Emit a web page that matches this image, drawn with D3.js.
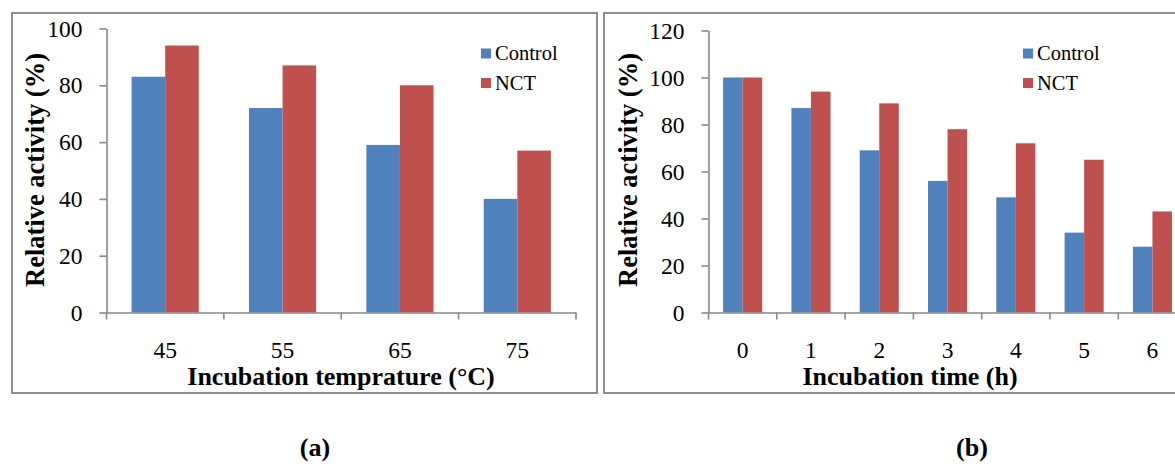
<!DOCTYPE html>
<html>
<head>
<meta charset="utf-8">
<script src="https://cdn.jsdelivr.net/npm/d3@7"></script>
<style>
  html, body { margin: 0; padding: 0; background: #fff; }
  svg { display: block; }
  svg text { font-family: "Times New Roman", "Liberation Serif", Tinos, "DejaVu Serif", serif; fill: #000; }
</style>
</head>
<body>
<svg id="fig" width="1175" height="464"></svg>
<script>
// Thermal stability (a): relative activity vs incubation temperature
const tempCategories = ["45", "55", "65", "75"];
const tempControl = [83, 72, 59, 40];
const tempNCT = [94, 87, 80, 57];
const tempTicks = [0, 20, 40, 60, 80, 100];

// Time course (b): relative activity vs incubation time
const timeCategories = ["0", "1", "2", "3", "4", "5", "6"];
const timeControl = [100, 87, 69, 56, 49, 34, 28];
const timeNCT = [100, 94, 89, 78, 72, 65, 43];
const timeTicks = [0, 20, 40, 60, 80, 100, 120];

const seriesNames = ["Control", "NCT"];
const seriesColors = { Control: "#4F81BD", NCT: "#C0504D" };
const axisColor = "#878787";
const frameColor = "#8e8e8e";
const serif = "'Times New Roman', 'Liberation Serif', Tinos, 'DejaVu Serif', serif";

const svg = d3.select("#fig");

function drawPanel(p) {
  const g = svg.append("g").attr("font-family", serif);

  // panel frame
  g.append("rect")
    .attr("x", p.frame[0]).attr("y", p.frame[1])
    .attr("width", p.frame[2]).attr("height", p.frame[3])
    .attr("fill", "none").attr("stroke", frameColor).attr("stroke-width", 2);

  const x0 = d3.scaleBand().domain(p.categories).range(p.xRange).padding(0);
  const bw = x0.bandwidth();
  const x1 = d3.scaleBand().domain(seriesNames).range([bw * 0.214, bw * 0.786]).padding(0);
  const y = d3.scaleLinear().domain([0, p.yMax]).range(p.yRange);

  const rows = p.categories.map((c, i) => ({ cat: c, Control: p.control[i], NCT: p.nct[i] }));

  // bars
  const groups = g.selectAll("g.cat").data(rows).join("g")
    .attr("class", "cat")
    .attr("transform", d => `translate(${x0(d.cat)},0)`);
  groups.selectAll("rect").data(d => seriesNames.map(s => ({ s, v: d[s] }))).join("rect")
    .attr("x", d => x1(d.s))
    .attr("width", x1.bandwidth())
    .attr("y", d => y(d.v))
    .attr("height", d => y(0) - y(d.v))
    .attr("fill", d => seriesColors[d.s]);

  // y axis
  const yAxis = g.append("g")
    .attr("transform", `translate(${p.xRange[0]},0)`)
    .call(d3.axisLeft(y).tickValues(p.yTicks).tickSize(7).tickSizeOuter(0).tickPadding(17));
  yAxis.attr("font-family", serif);
  yAxis.select(".domain").attr("stroke", axisColor).attr("stroke-width", 1.6);
  yAxis.selectAll(".tick line").attr("stroke", axisColor).attr("stroke-width", 1.6);
  yAxis.selectAll(".tick text")
    .attr("font-family", serif).attr("font-size", 23.5).attr("fill", "#000");

  // x axis: labels centred in each category, ticks on category boundaries
  const xAxis = g.append("g")
    .attr("transform", `translate(0,${y(0)})`)
    .call(d3.axisBottom(x0).tickSize(0).tickPadding(29));
  xAxis.attr("font-family", serif);
  xAxis.select(".domain").attr("stroke", axisColor).attr("stroke-width", 1.6);
  xAxis.selectAll(".tick text")
    .attr("font-family", serif).attr("font-size", 23.5).attr("fill", "#000");
  const bounds = p.categories.map(c => x0(c)).concat([x0.range()[1]]);
  xAxis.selectAll("line.bound").data(bounds).join("line")
    .attr("class", "bound")
    .attr("x1", d => d).attr("x2", d => d)
    .attr("y1", 0).attr("y2", 7)
    .attr("stroke", axisColor).attr("stroke-width", 1.6);

  // axis titles
  g.append("text")
    .attr("x", p.xTitlePos[0]).attr("y", p.xTitlePos[1])
    .attr("text-anchor", "middle")
    .attr("font-weight", "bold").attr("font-size", 26)
    .text(p.xTitle);
  g.append("text")
    .attr("transform", `translate(${p.yTitlePos[0]},${p.yTitlePos[1]}) rotate(-90)`)
    .attr("text-anchor", "middle")
    .attr("font-weight", "bold").attr("font-size", 26.5)
    .text("Relative activity (%)");

  // legend
  const lg = g.append("g").attr("transform", `translate(${p.legendPos[0]},${p.legendPos[1]})`);
  seriesNames.forEach((s, i) => {
    lg.append("rect")
      .attr("x", 0).attr("y", i * 29.5)
      .attr("width", 10).attr("height", 10)
      .attr("fill", seriesColors[s]);
    lg.append("text")
      .attr("x", 14).attr("y", i * 29.5 + 11.5)
      .attr("font-size", 20.5)
      .text(s);
  });

  // panel caption
  g.append("text")
    .attr("x", p.caption[0]).attr("y", p.caption[1])
    .attr("text-anchor", "middle")
    .attr("font-weight", "bold").attr("font-size", 26)
    .text(p.captionText);
}

drawPanel({
  frame: [12, 13, 585, 380],
  categories: tempCategories, control: tempControl, nct: tempNCT,
  yMax: 100, yTicks: tempTicks,
  xRange: [106.5, 576], yRange: [312.5, 28.5],
  xTitle: "Incubation temprature (\u00B0C)", xTitlePos: [341, 385],
  yTitlePos: [44, 170],
  legendPos: [481, 48.5],
  caption: [315, 456], captionText: "(a)"
});

drawPanel({
  frame: [604, 13, 600, 380],
  categories: timeCategories, control: timeControl, nct: timeNCT,
  yMax: 120, yTicks: timeTicks,
  xRange: [708.5, 708.5 + 7 * 68.3], yRange: [312.5, 30.5],
  xTitle: "Incubation time (h)", xTitlePos: [910, 385],
  yTitlePos: [637, 170],
  legendPos: [1023, 48.5],
  caption: [972, 456], captionText: "(b)"
});
</script>
</body>
</html>
